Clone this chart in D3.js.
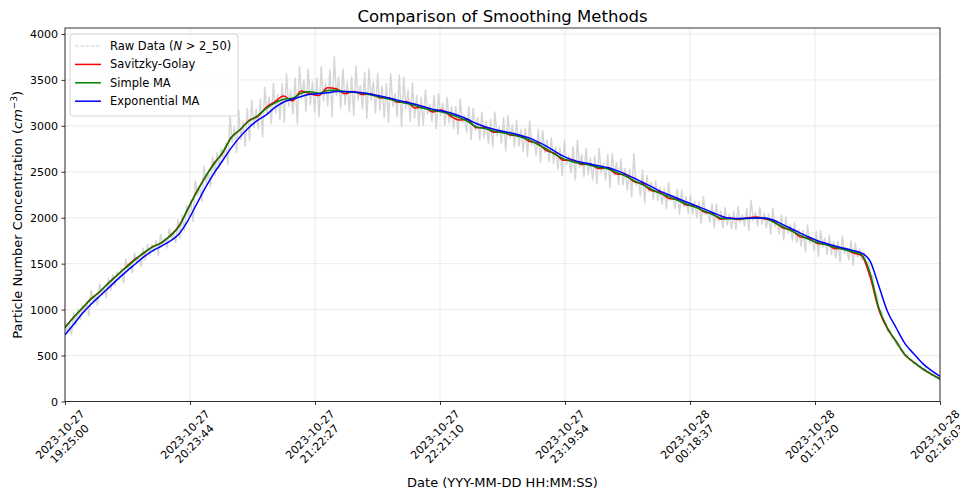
<!DOCTYPE html>
<html>
<head>
<meta charset="utf-8">
<script src="https://cdnjs.cloudflare.com/ajax/libs/d3/7.8.5/d3.min.js"></script>
<style>
body { margin: 0; background: #fff; }
svg text { font-family: "DejaVu Sans", sans-serif; fill: #000; }
</style>
</head>
<body>
<script>
// tick labels on the time axis (first and last are the ends of the data)
var tickLabels = ["2023-10-27 19:25:00", "2023-10-27 20:23:44", "2023-10-27 21:22:27", "2023-10-27 22:21:10",
    "2023-10-27 23:19:54", "2023-10-28 00:18:37", "2023-10-28 01:17:20", "2023-10-28 02:16:03"];
var yTicks = [0, 500, 1000, 1500, 2000, 2500, 3000, 3500, 4000];

// raw particle counts (noisy), 4 readings per smoothed sample
var rawValues = [
    890, 760, 840, 730,  970, 830, 1010, 890,  1050, 970, 1090, 930,  1210, 1100, 1160, 1050,
    1280, 1160, 1240, 1130,  1340, 1210, 1380, 1260,  1410, 1330, 1450, 1290,  1550, 1440, 1510, 1400,
    1620, 1500, 1580, 1470,  1670, 1540, 1710, 1590,  1710, 1630, 1750, 1590,  1820, 1710, 1780, 1670,
    1880, 1760, 1840, 1730,  1980, 1780, 2030, 1860,  2130, 2010, 2190, 1960,  2400, 2240, 2340, 2180,
    2560, 2380, 2490, 2340,  2660, 2460, 2710, 2540,  2750, 2630, 2810, 2580,  3100, 2820, 2990, 2710,
    3170, 2850, 3050, 2780,  3190, 2840, 3280, 2980,  3180, 2970, 3290, 2880,  3420, 3140, 3310, 3030,
    3460, 3140, 3340, 3070,  3460, 3040, 3570, 3210,  3380, 3130, 3520, 3020,  3640, 3300, 3500, 3160,
    3620, 3230, 3480, 3150,  3520, 3100, 3640, 3270,  3470, 3220, 3610, 3100,  3750, 3330, 3530, 3190,
    3620, 3230, 3480, 3150,  3530, 3110, 3650, 3280,  3440, 3190, 3580, 3080,  3620, 3280, 3480, 3140,
    3570, 3170, 3430, 3090,  3460, 3040, 3570, 3210,  3350, 3100, 3550, 2990,  3530, 3190, 3390, 3050,
    3470, 3080, 3330, 3000,  3310, 3010, 3390, 3130,  3230, 3050, 3330, 2970,  3350, 3110, 3250, 3010,
    3310, 3030, 3210, 2970,  3210, 2910, 3290, 3030,  3110, 2930, 3210, 2850,  3190, 2950, 3090, 2850,
    3150, 2870, 3050, 2810,  3070, 2770, 3150, 2890,  2990, 2810, 3090, 2730,  3110, 2870, 3010, 2770,
    3060, 2780, 2960, 2720,  2970, 2670, 3050, 2790,  2860, 2680, 2960, 2600,  2950, 2710, 2850, 2610,
    2870, 2590, 2770, 2530,  2760, 2460, 2840, 2580,  2670, 2490, 2770, 2410,  2840, 2550, 2690, 2450,
    2750, 2470, 2650, 2410,  2670, 2370, 2750, 2490,  2590, 2410, 2690, 2330,  2700, 2460, 2600, 2360,
    2640, 2360, 2540, 2300,  2530, 2230, 2700, 2350,  2420, 2240, 2520, 2160,  2460, 2280, 2390, 2200,
    2400, 2190, 2330, 2150,  2320, 2100, 2380, 2190,  2240, 2100, 2310, 2040,  2300, 2120, 2230, 2050,
    2250, 2040, 2180, 2000,  2170, 1940, 2230, 2030,  2080, 1950, 2150, 1890,  2150, 1960, 2070, 1890,
    2110, 1920, 2040, 1880,  2070, 1870, 2120, 1950,  2030, 1910, 2100, 1860,  2190, 1970, 2060, 1910,
    2110, 1930, 2050, 1890,  2040, 1820, 2100, 1900,  1950, 1820, 2030, 1760,  2010, 1830, 1930, 1750,
    1950, 1730, 1870, 1690,  1860, 1630, 1920, 1720,  1780, 1640, 1850, 1580,  1860, 1680, 1780, 1600,
    1810, 1600, 1740, 1560,  1740, 1520, 1800, 1610,  1670, 1540, 1750, 1480,  1720, 1570, 1660, 1540,
    1620, 1500, 1520, 1380,  1370, 1200, 1150, 980,  990, 860, 860, 760,  780, 680, 690, 610,
    630, 550, 560, 490,  510, 450, 460, 410,  430, 375, 390, 340,  365, 315, 330, 285,
    300, 258, 268, 232
];
var sgValues = [
    806, 920, 1015, 1123, 1194, 1294, 1377, 1466, 1550, 1612,
    1685, 1724, 1804, 1908, 2085, 2276, 2436, 2590, 2702, 2876,
    2955, 3058, 3100, 3202, 3265, 3325, 3270, 3380, 3350, 3330,
    3415, 3405, 3350, 3375, 3340, 3347, 3304, 3307, 3256, 3265,
    3195, 3205, 3150, 3172, 3110, 3065, 3070, 2980, 2982, 2930,
    2935, 2897, 2895, 2832, 2812, 2730, 2700, 2625, 2628, 2580,
    2584, 2536, 2543, 2477, 2470, 2393, 2370, 2295, 2277, 2210,
    2200, 2138, 2130, 2065, 2043, 1983, 1998, 1982, 1999, 2008,
    1987, 1962, 1890, 1868, 1792, 1777, 1720, 1713, 1663, 1665,
    1618, 1592, 1360, 1000, 790, 655, 505, 428, 355, 299,
    245
];
var smaValues = [
    806, 915, 1020, 1115, 1200, 1290, 1380, 1460, 1540, 1620,
    1680, 1730, 1800, 1900, 2090, 2270, 2440, 2580, 2710, 2870,
    2960, 3050, 3110, 3190, 3250, 3290, 3300, 3355, 3370, 3355,
    3385, 3390, 3370, 3365, 3355, 3335, 3314, 3292, 3268, 3245,
    3220, 3190, 3168, 3152, 3125, 3090, 3050, 2990, 2970, 2945,
    2925, 2905, 2880, 2850, 2800, 2750, 2690, 2640, 2610, 2590,
    2572, 2550, 2533, 2495, 2455, 2405, 2360, 2310, 2265, 2230,
    2190, 2150, 2115, 2075, 2035, 1995, 1988, 1990, 1993, 1998,
    1995, 1950, 1905, 1858, 1810, 1765, 1730, 1705, 1678, 1655,
    1630, 1600, 1400, 1020, 800, 650, 510, 425, 358, 297,
    245
];
var emaValues = [
    725, 840, 960, 1061, 1151, 1239, 1329, 1414, 1494, 1574,
    1640, 1690, 1745, 1820, 1960, 2140, 2320, 2480, 2620, 2760,
    2880, 2980, 3060, 3120, 3200, 3260, 3290, 3320, 3345, 3350,
    3360, 3375, 3375, 3368, 3360, 3345, 3325, 3303, 3280, 3258,
    3235, 3208, 3182, 3165, 3142, 3110, 3072, 3025, 2990, 2963,
    2942, 2922, 2898, 2870, 2828, 2780, 2722, 2668, 2630, 2603,
    2585, 2565, 2546, 2515, 2478, 2432, 2386, 2338, 2290, 2250,
    2212, 2172, 2135, 2097, 2057, 2018, 1995, 1992, 1994, 1997,
    1998, 1972, 1928, 1882, 1835, 1790, 1750, 1720, 1692, 1668,
    1645, 1618, 1530, 1260, 980, 800, 630, 520, 415, 338,
    273
];

var parseTime = d3.timeParse("%Y-%m-%d %H:%M:%S");
var tickDates = tickLabels.map(parseTime);
var startTime = tickDates[0];
var endTime = tickDates[tickDates.length - 1];

// samples are evenly spaced between the first and last timestamp
function sampleTimes(n){
    var step = (endTime - startTime) / (n - 1);
    var out = [];
    for (var i = 0; i < n; i++)
        out.push(new Date(+startTime + i * step));
    return out;
}

var plotL = 65, plotR = 940, plotT = 28, plotB = 401.5;

var svg = d3.select("body").append("svg")
    .attr("width", 960)
    .attr("height", 491);

var x = d3.scaleTime().domain([startTime, endTime]).range([plotL, plotR]);
var y = d3.scaleLinear().domain([0, 4065]).range([plotB, plotT]);

// grid
svg.append("g").selectAll("line").data(tickDates).enter().append("line")
    .attr("x1", function(d){ return x(d); }).attr("x2", function(d){ return x(d); })
    .attr("y1", plotT).attr("y2", plotB)
    .style("stroke", "#b0b0b0").style("stroke-opacity", 0.3).style("stroke-width", 0.8);
svg.append("g").selectAll("line").data(yTicks).enter().append("line")
    .attr("x1", plotL).attr("x2", plotR)
    .attr("y1", function(d){ return y(d); }).attr("y2", function(d){ return y(d); })
    .style("stroke", "#b0b0b0").style("stroke-opacity", 0.3).style("stroke-width", 0.8);

svg.append("clipPath").attr("id", "plotclip")
    .append("rect").attr("x", plotL).attr("y", plotT).attr("width", plotR - plotL).attr("height", plotB - plotT);

var plot = svg.append("g").attr("clip-path", "url(#plotclip)");

function drawSeries(values, color, width, curve){
    var times = sampleTimes(values.length);
    var line = d3.line()
        .x(function(d, i){ return x(times[i]); })
        .y(function(d){ return y(d); })
        .curve(curve || d3.curveLinear);
    plot.append("path")
        .datum(values)
        .attr("d", line)
        .style("fill", "none")
        .style("stroke", color)
        .style("stroke-width", width)
        .style("stroke-linejoin", "round");
}

// the raw trace is so dense that its dashes merge into a band
drawSeries(rawValues, "#d6d6d6", 1.5);
drawSeries(sgValues, "#ff0000", 1.5, d3.curveMonotoneX);
drawSeries(smaValues, "#008000", 1.5, d3.curveMonotoneX);
drawSeries(emaValues, "#0000ff", 1.5, d3.curveMonotoneX);

// frame
svg.append("rect")
    .attr("x", plotL).attr("y", plotT)
    .attr("width", plotR - plotL).attr("height", plotB - plotT)
    .style("fill", "none").style("stroke", "#000").style("stroke-width", 0.8);

// y axis
var yAxis = svg.append("g")
    .attr("transform", "translate(" + plotL + ",0)")
    .call(d3.axisLeft(y).tickValues(yTicks).tickSize(3.5).tickPadding(3.5).tickFormat(d3.format("d")));
yAxis.select(".domain").remove();
yAxis.selectAll("text").style("font-size", "11px").style("font-family", "DejaVu Sans");
yAxis.selectAll("line").style("stroke", "#000").style("stroke-width", 0.8);

// x axis, ticks only; labels are rotated by hand
var xAxis = svg.append("g")
    .attr("transform", "translate(0," + plotB + ")")
    .call(d3.axisBottom(x).tickValues(tickDates).tickSize(3.5).tickFormat(""));
xAxis.select(".domain").remove();
xAxis.selectAll("line").style("stroke", "#000").style("stroke-width", 0.8);

tickLabels.forEach(function(lbl, i){
    var parts = lbl.split(" ");
    var outer = svg.append("g");
    var inner = outer.append("g").attr("transform", "rotate(-45)");
    var t = inner.append("text")
        .attr("text-anchor", "middle")
        .style("font-size", "11px");
    t.append("tspan").attr("x", 0).attr("y", 0).text(parts[0]);
    t.append("tspan").attr("x", 0).attr("y", 13.2).text(parts[1]);
    var bb = outer.node().getBBox();
    var tx = x(tickDates[i]) - (bb.x + bb.width / 2);
    var ty = plotB + 6 - bb.y;
    outer.attr("transform", "translate(" + tx + "," + ty + ")");
});

// titles
svg.append("text")
    .attr("x", (plotL + plotR) / 2).attr("y", 22)
    .attr("text-anchor", "middle")
    .style("font-size", "16.5px")
    .text("Comparison of Smoothing Methods");

svg.append("text")
    .attr("x", (plotL + plotR) / 2).attr("y", 487)
    .attr("text-anchor", "middle")
    .style("font-size", "13px")
    .text("Date (YYY-MM-DD HH:MM:SS)");

var yl = svg.append("text")
    .attr("transform", "translate(22," + ((plotT + plotB) / 2) + ") rotate(-90)")
    .attr("text-anchor", "middle")
    .style("font-size", "13px");
yl.append("tspan").text("Particle Number Concentration (");
yl.append("tspan").style("font-style", "italic").text("cm");
yl.append("tspan").attr("dy", -5).style("font-size", "9px").text("\u22123");
yl.append("tspan").attr("dy", 5).text(")");

// legend
var legendItems = [
    {label: "raw", color: "#d3d3d3", dash: "3.7,1.6", width: 1},
    {label: "Savitzky-Golay", color: "#ff0000", width: 1.5},
    {label: "Simple MA", color: "#008000", width: 1.5},
    {label: "Exponential MA", color: "#0000ff", width: 1.5}
];

var legend = svg.append("g").attr("transform", "translate(70,34)");
legend.append("rect")
    .attr("width", 168).attr("height", 82)
    .attr("rx", 3).attr("ry", 3)
    .style("fill", "#fff").style("fill-opacity", 0.8)
    .style("stroke", "#cccccc").style("stroke-width", 0.8);

legendItems.forEach(function(item, i){
    var cy = 12 + i * 18.4;
    var ln = legend.append("line")
        .attr("x1", 5).attr("x2", 31).attr("y1", cy).attr("y2", cy)
        .style("stroke", item.color).style("stroke-width", item.width);
    if (item.dash) ln.style("stroke-dasharray", item.dash);
    var t = legend.append("text")
        .attr("x", 40).attr("y", cy + 4)
        .style("font-size", "11.5px");
    if (item.label == "raw") {
        t.append("tspan").text("Raw Data (");
        t.append("tspan").style("font-style", "italic").text("N");
        t.append("tspan").text(" > 2_50)");
    } else {
        t.text(item.label);
    }
});
</script>
</body>
</html>
